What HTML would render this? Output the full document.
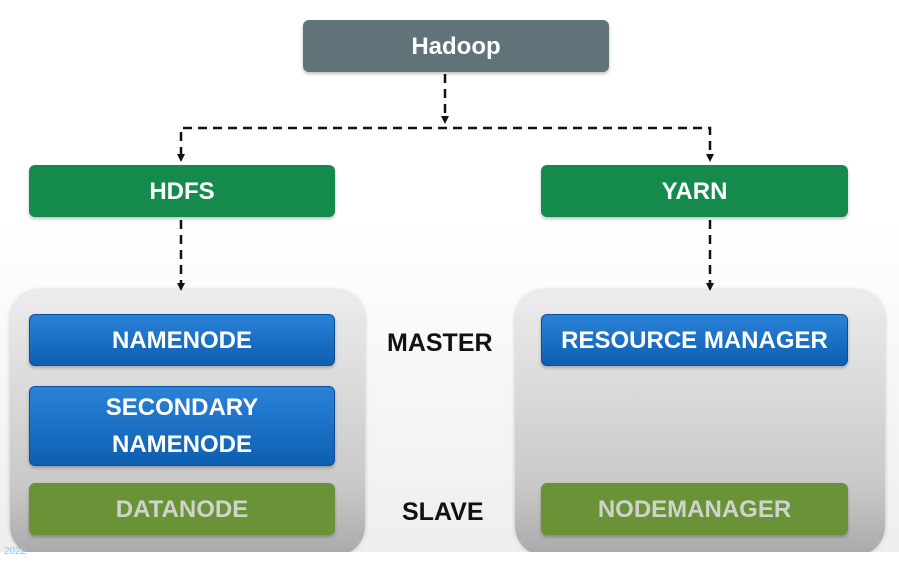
<!DOCTYPE html>
<html><head><style>
body{margin:0;width:899px;height:564px;overflow:hidden;background:#fff;font-family:"Liberation Sans",sans-serif;position:relative}
.clip{position:absolute;left:0;top:0;width:899px;height:552px;overflow:hidden;background:linear-gradient(#fff 0%,#fff 40%,#eee 100%)}
.b{position:absolute;display:flex;align-items:center;justify-content:center;color:#fff;font-weight:bold;font-size:24px;border-radius:6px;text-align:center;line-height:37px;box-shadow:0 2px 3px rgba(0,0,0,.25)}
.blue{background:linear-gradient(#2a82d8,#0d5fb0);border:1px solid #0b4f98}
.green{background:#158a4d}
.olive{background:#6a9337;color:#cfd3cb}
.c{position:absolute;top:290px;height:266px;border-radius:30px;background:linear-gradient(#ececec,#c8c8c8 75%,#a9a9a9);box-shadow:0 0 4px rgba(0,0,0,.2)}
.l{position:absolute;font-weight:bold;font-size:25px;color:#111}
</style></head><body>
<div class="clip">
<div class="c" style="left:10px;width:355px"></div>
<div class="c" style="left:515px;width:370px"></div>
</div>
<svg style="position:absolute;left:0;top:0" width="899" height="564">
<g stroke="#111" stroke-width="2.5" fill="none" stroke-dasharray="9,6">
<path d="M445 74V118"/><path d="M181 156V128H710V156"/><path d="M181 220V283"/><path d="M710 220V283"/>
</g>
<g fill="#111"><path d="M441 116h8l-4 8z"/><path d="M177 154h8l-4 8z"/><path d="M706 154h8l-4 8z"/><path d="M177 283h8l-4 8z"/><path d="M706 283h8l-4 8z"/></g>
</svg>
<div class="b" style="left:303px;top:20px;width:306px;height:52px;background:#5f7379">Hadoop</div>
<div class="b green" style="left:29px;top:165px;width:306px;height:52px">HDFS</div>
<div class="b green" style="left:541px;top:165px;width:307px;height:52px">YARN</div>
<div class="b blue" style="left:29px;top:314px;width:304px;height:50px">NAMENODE</div>
<div class="b blue" style="left:29px;top:386px;width:304px;height:78px">SECONDARY<br>NAMENODE</div>
<div class="b olive" style="left:29px;top:483px;width:306px;height:52px">DATANODE</div>
<div class="b blue" style="left:541px;top:314px;width:305px;height:50px">RESOURCE MANAGER</div>
<div class="b olive" style="left:541px;top:483px;width:307px;height:52px">NODEMANAGER</div>
<div class="l" style="left:387px;top:329px">MASTER</div>
<div class="l" style="left:402px;top:498px">SLAVE</div>
<div style="position:absolute;left:4px;top:546px;font-size:10px;color:#8cc8f0">2022</div>
</body></html>
